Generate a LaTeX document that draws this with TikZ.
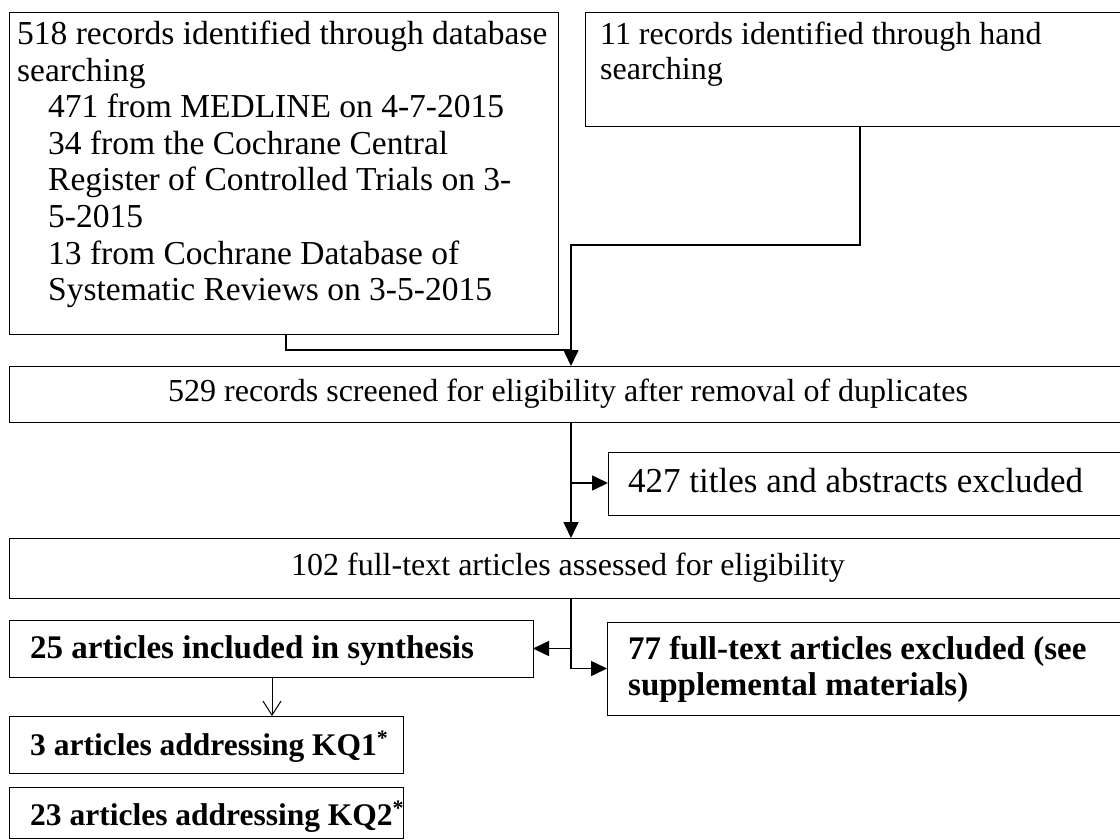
\documentclass[tikz,border=0pt]{standalone}
\usepackage{fontspec}
\setmainfont{Liberation Serif}
\usetikzlibrary{arrows.meta}
\begin{document}
\begin{tikzpicture}[x=1pt,y=-1pt,
  box/.style={draw, line width=1pt, inner sep=0pt, outer sep=0pt, anchor=north west},
  txt/.style={inner sep=0pt, anchor=base west, font=\fontsize{32}{32}\selectfont},
  bigtxt/.style={inner sep=0pt, anchor=base west, font=\fontsize{33.5}{33.5}\selectfont},
  exctxt/.style={inner sep=0pt, anchor=base west, font=\fontsize{35}{35}\selectfont},
  ctxt/.style={inner sep=0pt, anchor=base, font=\fontsize{32}{32}\selectfont},
  btxt/.style={inner sep=0pt, anchor=base west, font=\fontsize{33}{33}\selectfont\bfseries},
  kqtxt/.style={inner sep=0pt, anchor=base west, font=\fontsize{31.5}{31.5}\selectfont\bfseries},
  conn/.style={line width=1.6pt},
  arr/.style={conn, -{Triangle[length=16pt,width=15pt]}},
  thinarr/.style={line width=1pt, -{Straight Barb[length=14pt,width=18pt]}}
]
\useasboundingbox (0,0) rectangle (1120,840);
% boxes
\node[box, minimum width=549pt, minimum height=321pt] (b1) at (9,13) {};
\node[box, minimum width=545pt, minimum height=114pt] (b2) at (585,13) {};
\node[box, minimum width=1121pt, minimum height=56pt] (b3) at (9,366) {};
\node[box, minimum width=522pt, minimum height=63pt] (b4) at (608,452) {};
\node[box, minimum width=1121pt, minimum height=60pt] (b5) at (9,538) {};
\node[box, minimum width=524pt, minimum height=57pt] (b6) at (9,620) {};
\node[box, minimum width=523pt, minimum height=93pt] (b7) at (607,622) {};
\node[box, minimum width=394pt, minimum height=57pt] (b8) at (9,716) {};
\node[box, minimum width=394pt, minimum height=51pt] (b9) at (9,787) {};
% texts
\node[bigtxt] (t11) at (17,45) {518 records identified through database};
\node[bigtxt] (t12) at (17,81.5) {searching};
\node[bigtxt] (t13) at (48,118) {471 from MEDLINE on 4-7-2015};
\node[bigtxt] (t14) at (48,154.5) {34 from the Cochrane Central};
\node[bigtxt] (t15) at (48,191) {Register of Controlled Trials on 3-};
\node[bigtxt] (t16) at (48,227.5) {5-2015};
\node[bigtxt] (t17) at (48,264) {13 from Cochrane Database of};
\node[bigtxt] (t18) at (48,300.5) {Systematic Reviews on 3-5-2015};
\node[txt] (t21) at (600,45) {11 records identified through hand};
\node[txt] (t22) at (600,80) {searching};
\node[ctxt] (t3) at (568,401) {529 records screened for eligibility after removal of duplicates};
\node[exctxt] (t4) at (628,492) {427 titles and abstracts excluded};
\node[ctxt] (t5) at (568,575) {102 full-text articles assessed for eligibility};
\node[btxt] (t6) at (30,658) {25 articles included in synthesis};
\node[btxt] (t71) at (628,659) {77 full-text articles excluded (see};
\node[btxt] (t72) at (628,695) {supplemental materials)};
\node[kqtxt] (t8) at (30,755) {3 articles addressing KQ1\textsuperscript{*}};
\node[kqtxt] (t9) at (30,825) {23 articles addressing KQ2\textsuperscript{*}};
% junctions
\coordinate (j1) at (571,350);
\coordinate (j2) at (571,245);
\coordinate (j3) at (571,483);
\coordinate (k) at (272,0);
% connectors
\draw[conn] ([xshift=2.5pt]b1.south) |- (j1);
\draw[arr] ([xshift=2.5pt]b2.south) |- (j2) -- (j2 |- b3.north);
\draw[arr] (j2 |- b3.south) -- (j2 |- b5.north);
\draw[arr] (j3) -- (j3 -| b4.west);
\draw[arr] (j2 |- b5.south) |- (b7.west);
\draw[arr] (b6.east -| j2) -- (b6.east);
\draw[thinarr] (b6.south -| k) -- (b8.north -| k);
\end{tikzpicture}
\end{document}
